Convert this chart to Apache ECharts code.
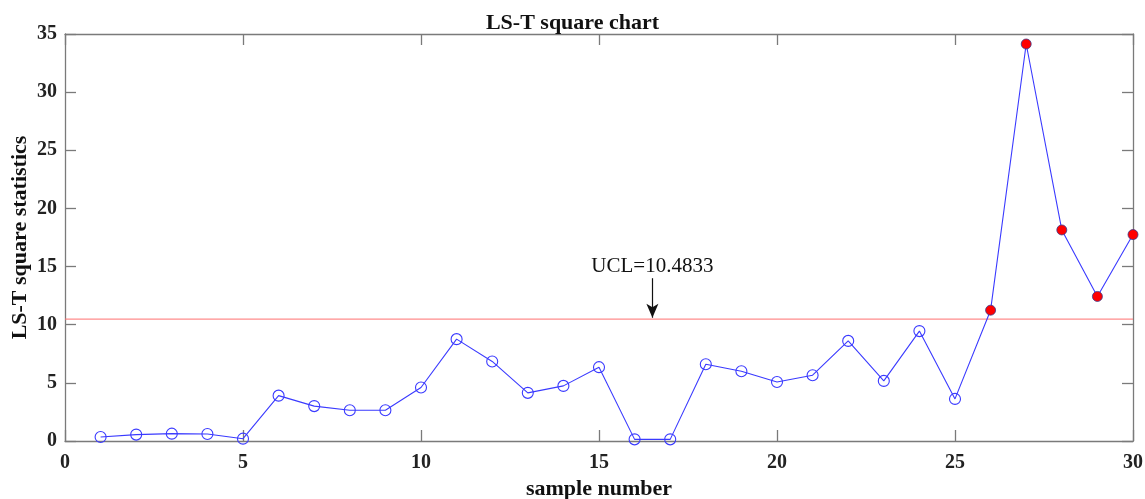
<!DOCTYPE html>
<html>
<head>
<meta charset="utf-8">
<script src="https://cdn.jsdelivr.net/npm/echarts@6/dist/echarts.min.js"></script>
<style>
  html, body { margin: 0; padding: 0; background: #fff; }
  #chart { width: 1145px; height: 499px; }
</style>
</head>
<body>
<div id="chart"></div>
<script>
// LS-T square statistic for each sample
const sampleNumbers = [1,2,3,4,5,6,7,8,9,10,11,12,13,14,15,16,17,18,19,20,21,22,23,24,25,26,27,28,29,30];
const statistics = [0.34,0.55,0.63,0.60,0.20,3.90,3.00,2.64,2.64,4.60,
                    8.76,6.84,4.14,4.74,6.35,0.14,0.14,6.60,6.00,5.08,
                    5.66,8.61,5.17,9.45,3.62,11.25,34.14,18.15,12.43,17.75];
const UCL = 10.4833;
const uclLabel = 'UCL=10.4833';
// where the UCL arrow sits: sample position, arrow start and tip heights
const arrowX = 16.5;
const arrowTop = 14.0;
const arrowTip = 10.6;
const xRange = [0, 30];
const xTicks = [0, 5, 10, 15, 20, 25, 30];
const yTicks = [0, 5, 10, 15, 20, 25, 30, 35];

const serif = '"Liberation Serif", "Times New Roman", serif';
const axisGray = '#7a7a7a';

const points = sampleNumbers.map((n, i) => {
  const v = statistics[i];
  const out = v > UCL;
  return {
    value: [n, v],
    symbol: 'circle',
    symbolSize: out ? 10 : 11,
    itemStyle: out
      ? { color: '#ff0000', borderColor: '#3a3a8a', borderWidth: 0.8 }
      : { color: 'rgba(255,255,255,0)', borderColor: '#3a3aff', borderWidth: 1.1 }
  };
});

const chart = echarts.init(document.getElementById('chart'));
const lineGray = { color: axisGray, width: 1.3 };
const baseX = {
  type: 'value', min: 0, max: 30, interval: 5,
  axisLine: { show: true, onZero: false, lineStyle: lineGray },
  axisTick: { show: true, inside: true, length: 11, lineStyle: lineGray },
  splitLine: { show: false }
};
const baseY = {
  type: 'value', min: 0, max: 35, interval: 5,
  axisLine: { show: true, onZero: false, lineStyle: lineGray },
  axisTick: { show: true, inside: true, length: 11, lineStyle: lineGray },
  splitLine: { show: false }
};

chart.setOption({
  animation: false,
  backgroundColor: '#ffffff',
  title: {
    text: 'LS-T square chart',
    left: 'center',
    top: 7,
    textStyle: { fontFamily: serif, fontWeight: 'bold', fontSize: 22, color: '#111' }
  },
  grid: { left: 65, right: 12, top: 34, bottom: 58, containLabel: false, outerBoundsMode: 'none' },
  xAxis: [
    Object.assign({}, baseX, {
      position: 'bottom',
      name: 'sample number',
      nameLocation: 'middle',
      nameGap: 37,
      nameMoveOverlap: false,
      nameTextStyle: { fontFamily: serif, fontWeight: 'bold', fontSize: 22, color: '#111' },
      axisLabel: {
        margin: 12,
        fontFamily: serif, fontWeight: 'bold', fontSize: 20, color: '#222',
        formatter: v => xTicks.includes(v) ? String(v) : ''
      }
    }),
    Object.assign({}, baseX, { position: 'top', axisLabel: { show: false } })
  ],
  yAxis: [
    Object.assign({}, baseY, {
      position: 'left',
      name: 'LS-T square statistics',
      nameLocation: 'middle',
      nameGap: 34,
      nameMoveOverlap: false,
      nameTextStyle: { fontFamily: serif, fontWeight: 'bold', fontSize: 22, color: '#111' },
      axisLabel: {
        margin: 8,
        fontFamily: serif, fontWeight: 'bold', fontSize: 20, color: '#222',
        formatter: v => yTicks.includes(v) ? String(v) : ''
      }
    }),
    Object.assign({}, baseY, { position: 'right', axisLabel: { show: false } })
  ],
  series: [
    {
      // upper control limit across the whole sample range
      type: 'line',
      data: xRange.map(x => [x, UCL]),
      symbol: 'none',
      silent: true,
      lineStyle: { color: '#ff7070', width: 1 },
      itemStyle: { color: '#ff7070' },
      z: 2
    },
    {
      type: 'line',
      data: points,
      showAllSymbol: true,
      lineStyle: { color: '#3a3aff', width: 1.1 },
      itemStyle: { color: '#3a3aff' },
      z: 3,
      markLine: {
        silent: true,
        animation: false,
        data: [
          [
            { coord: [arrowX, arrowTop], symbol: 'none' },
            {
              coord: [arrowX, arrowTip], symbol: 'arrow', symbolSize: [9, 14],
              label: {
                show: true, position: 'start', formatter: uclLabel, distance: 1,
                fontFamily: serif, fontSize: 21, color: '#111'
              }
            }
          ]
        ],
        lineStyle: { color: '#111', width: 1.2, type: 'solid' },
        itemStyle: { color: '#111' },
        label: { show: false }
      }
    }
  ]
});
</script>
</body>
</html>
